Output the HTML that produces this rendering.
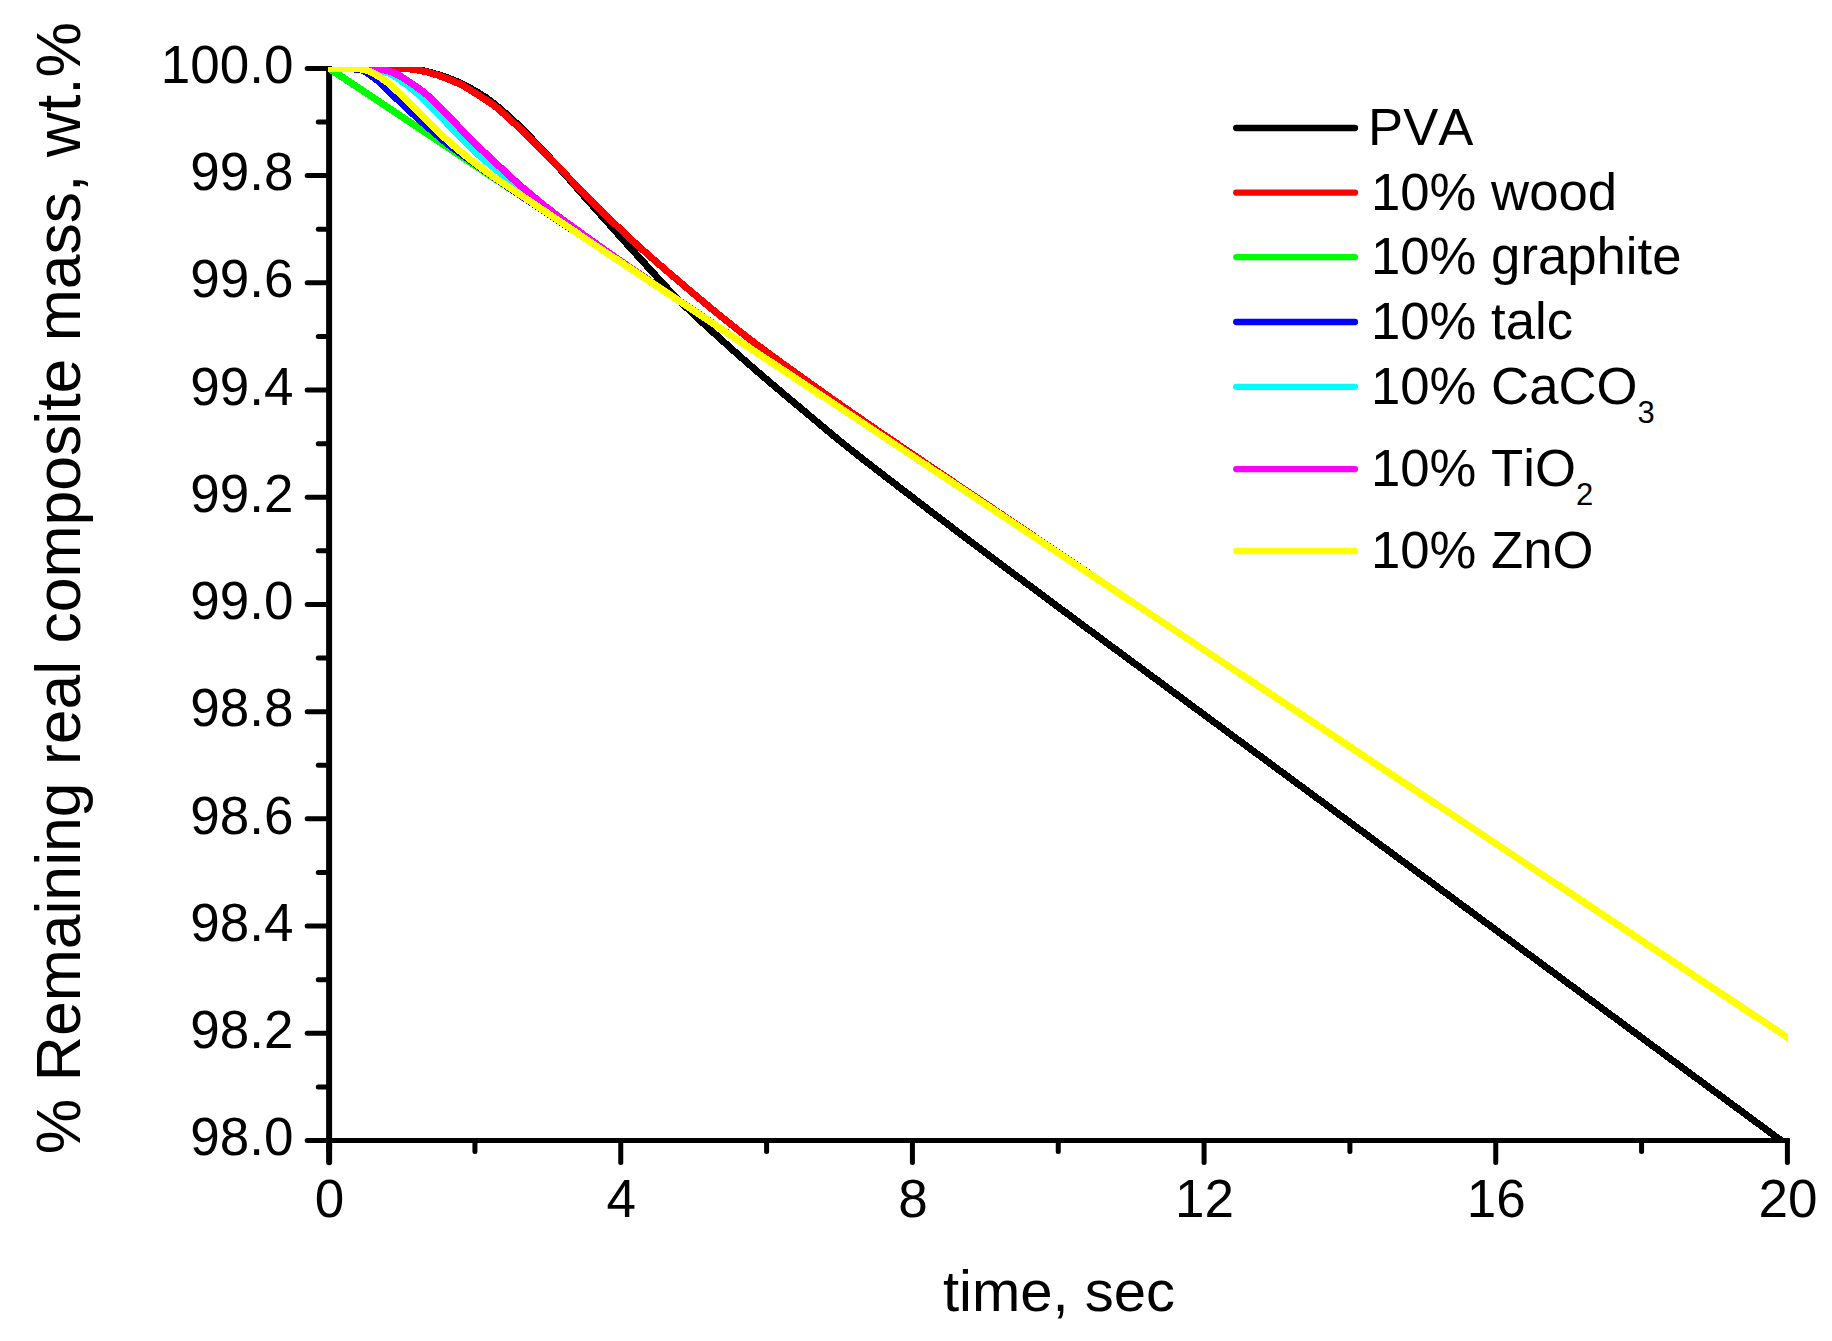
<!DOCTYPE html>
<html lang="en"><head><meta charset="utf-8"><title>Remaining real composite mass vs time</title>
<style>html,body{margin:0;padding:0;background:#fff}svg{display:block}text{font-family:"Liberation Sans",sans-serif;fill:#000;font-kerning:none}</style></head><body>
<svg width="1832" height="1341" viewBox="0 0 1832 1341">
<rect width="1832" height="1341" fill="#fff"/>
<defs><clipPath id="plot"><rect x="328" y="67" width="1460" height="1074.2"/></clipPath></defs>
<g stroke="#000" fill="none" stroke-linecap="butt">
<line x1="329.10" y1="65.90" x2="329.10" y2="1150.00" stroke-width="6.0"/>
<line x1="329.10" y1="1140" x2="329.10" y2="1162.2" stroke-width="6.0" stroke-linecap="round"/>
<line x1="307.20" y1="1140.50" x2="1789.90" y2="1140.50" stroke-width="5.0"/>
<line x1="307.2" y1="1140.50" x2="320" y2="1140.50" stroke-width="5.0" stroke-linecap="round"/>
<line x1="307.2" y1="68.40" x2="329.10" y2="68.40" stroke-width="5" stroke-linecap="round"/>
<line x1="318.3" y1="122.00" x2="329.10" y2="122.00" stroke-width="5" stroke-linecap="round"/>
<line x1="307.2" y1="175.61" x2="329.10" y2="175.61" stroke-width="5" stroke-linecap="round"/>
<line x1="318.3" y1="229.22" x2="329.10" y2="229.22" stroke-width="5" stroke-linecap="round"/>
<line x1="307.2" y1="282.82" x2="329.10" y2="282.82" stroke-width="5" stroke-linecap="round"/>
<line x1="318.3" y1="336.43" x2="329.10" y2="336.43" stroke-width="5" stroke-linecap="round"/>
<line x1="307.2" y1="390.03" x2="329.10" y2="390.03" stroke-width="5" stroke-linecap="round"/>
<line x1="318.3" y1="443.63" x2="329.10" y2="443.63" stroke-width="5" stroke-linecap="round"/>
<line x1="307.2" y1="497.24" x2="329.10" y2="497.24" stroke-width="5" stroke-linecap="round"/>
<line x1="318.3" y1="550.85" x2="329.10" y2="550.85" stroke-width="5" stroke-linecap="round"/>
<line x1="307.2" y1="604.45" x2="329.10" y2="604.45" stroke-width="5" stroke-linecap="round"/>
<line x1="318.3" y1="658.05" x2="329.10" y2="658.05" stroke-width="5" stroke-linecap="round"/>
<line x1="307.2" y1="711.66" x2="329.10" y2="711.66" stroke-width="5" stroke-linecap="round"/>
<line x1="318.3" y1="765.26" x2="329.10" y2="765.26" stroke-width="5" stroke-linecap="round"/>
<line x1="307.2" y1="818.87" x2="329.10" y2="818.87" stroke-width="5" stroke-linecap="round"/>
<line x1="318.3" y1="872.47" x2="329.10" y2="872.47" stroke-width="5" stroke-linecap="round"/>
<line x1="307.2" y1="926.08" x2="329.10" y2="926.08" stroke-width="5" stroke-linecap="round"/>
<line x1="318.3" y1="979.68" x2="329.10" y2="979.68" stroke-width="5" stroke-linecap="round"/>
<line x1="307.2" y1="1033.29" x2="329.10" y2="1033.29" stroke-width="5" stroke-linecap="round"/>
<line x1="318.3" y1="1086.89" x2="329.10" y2="1086.89" stroke-width="5" stroke-linecap="round"/>
<line x1="474.93" y1="1140.50" x2="474.93" y2="1151.6" stroke-width="5" stroke-linecap="round"/>
<line x1="620.76" y1="1140.50" x2="620.76" y2="1162.5" stroke-width="5.0" stroke-linecap="round"/>
<line x1="766.59" y1="1140.50" x2="766.59" y2="1151.6" stroke-width="5" stroke-linecap="round"/>
<line x1="912.42" y1="1140.50" x2="912.42" y2="1162.5" stroke-width="5.0" stroke-linecap="round"/>
<line x1="1058.25" y1="1140.50" x2="1058.25" y2="1151.6" stroke-width="5" stroke-linecap="round"/>
<line x1="1204.08" y1="1140.50" x2="1204.08" y2="1162.5" stroke-width="5.0" stroke-linecap="round"/>
<line x1="1349.91" y1="1140.50" x2="1349.91" y2="1151.6" stroke-width="5" stroke-linecap="round"/>
<line x1="1495.74" y1="1140.50" x2="1495.74" y2="1162.5" stroke-width="5.0" stroke-linecap="round"/>
<line x1="1641.57" y1="1140.50" x2="1641.57" y2="1151.6" stroke-width="5" stroke-linecap="round"/>
<line x1="1787.40" y1="1140.50" x2="1787.40" y2="1162.5" stroke-width="5.0" stroke-linecap="round"/>
</g>
<g clip-path="url(#plot)" fill="none" stroke-width="7.0" stroke-linejoin="round" stroke-linecap="butt" shape-rendering="crispEdges">
<path stroke="#000" d="M321.1 68.4L323.6 68.4L326.1 68.4L328.6 68.4L331.1 68.4L333.6 68.4L336.1 68.4L338.6 68.4L341.1 68.4L343.6 68.4L346.1 68.4L348.6 68.4L351.1 68.4L353.6 68.4L356.1 68.4L358.6 68.4L361.1 68.4L363.6 68.4L366.1 68.4L368.6 68.4L371.1 68.4L373.6 68.4L376.1 68.3L378.6 68.3L381.1 68.3L383.6 68.3L386.1 68.3L388.6 68.3L391.1 68.3L393.6 68.3L396.1 68.3L398.6 68.4L401.1 68.4L403.6 68.5L406.1 68.6L408.6 68.7L411.1 68.9L413.6 69.2L416.1 69.6L418.6 70.0L421.1 70.4L423.6 70.9L426.1 71.4L428.6 71.9L431.1 72.6L433.6 73.3L436.1 74.1L438.6 74.8L441.1 75.7L443.6 76.5L446.1 77.3L448.6 78.3L451.1 79.2L453.6 80.2L456.1 81.2L458.6 82.3L461.1 83.4L463.6 84.7L466.1 86.0L468.6 87.4L471.1 88.7L473.6 90.1L476.1 91.5L478.6 93.0L481.1 94.5L483.6 96.1L486.1 97.7L488.6 99.5L491.1 101.3L493.6 103.3L496.1 105.3L498.6 107.4L501.1 109.5L503.6 111.7L506.1 113.9L508.6 116.2L511.1 118.5L513.6 120.7L516.1 123.0L518.6 125.4L521.1 127.8L523.6 130.3L526.1 132.8L528.6 135.4L531.1 138.0L533.6 140.6L536.1 143.2L538.6 145.8L541.1 148.4L543.6 151.1L546.1 153.7L548.6 156.4L551.1 159.1L553.6 161.9L556.1 164.6L558.6 167.4L561.1 170.2L563.6 173.0L566.1 175.8L568.6 178.6L571.1 181.4L573.6 184.3L576.1 187.1L578.6 189.9L581.1 192.7L583.6 195.6L586.1 198.4L588.6 201.2L591.1 204.0L593.6 206.8L596.1 209.6L598.6 212.4L601.1 215.2L603.6 218.0L606.1 220.8L608.6 223.6L611.1 226.4L613.6 229.2L616.1 232.0L618.6 234.8L621.1 237.6L623.6 240.3L626.1 243.1L628.6 245.9L631.1 248.6L633.6 251.4L636.1 254.1L638.6 256.9L641.1 259.6L643.6 262.3L646.1 265.1L648.6 267.8L651.1 270.6L653.6 273.4L656.1 276.1L658.6 278.9L661.1 281.6L663.6 284.3L666.1 287.0L668.6 289.6L671.1 292.3L673.6 294.9L676.1 297.4L678.6 299.9L681.1 302.4L683.6 304.8L686.1 307.2L688.6 309.6L691.1 312.0L693.6 314.3L696.1 316.7L698.6 319.0L701.1 321.3L703.6 323.6L706.1 325.9L708.6 328.2L711.1 330.4L713.6 332.7L716.1 335.0L718.6 337.2L721.1 339.5L723.6 341.7L726.1 344.0L728.6 346.2L731.1 348.5L733.6 350.7L736.1 352.9L738.6 355.1L741.1 357.3L743.6 359.5L746.1 361.7L748.6 363.9L751.1 366.1L753.6 368.3L756.1 370.4L758.6 372.6L761.1 374.7L763.6 376.9L766.1 379.0L768.6 381.2L771.1 383.3L773.6 385.4L776.1 387.5L778.6 389.6L781.1 391.8L783.6 393.9L786.1 396.0L788.6 398.1L791.1 400.2L793.6 402.2L796.1 404.3L798.6 406.4L801.1 408.5L803.6 410.6L806.1 412.7L808.6 414.8L811.1 416.9L813.6 419.0L816.1 421.1L818.6 423.2L821.1 425.3L823.6 427.4L826.1 429.5L828.6 431.6L831.1 433.7L833.6 435.7L836.1 437.8L838.6 439.8L841.1 441.9L843.6 443.9L846.1 445.9L848.6 447.9L851.1 449.9L853.6 451.8L856.1 453.8L858.6 455.8L861.1 457.7L863.6 459.7L866.1 461.6L868.6 463.6L871.1 465.5L873.6 467.5L876.1 469.4L878.6 471.3L881.1 473.3L883.6 475.2L886.1 477.1L888.6 479.0L891.1 481.0L893.6 482.9L896.1 484.8L898.6 486.7L901.1 488.6L903.6 490.6L906.1 492.5L908.6 494.4L911.1 496.3L913.6 498.2L916.1 500.2L918.6 502.1L921.1 504.0L923.6 505.9L926.1 507.8L928.6 509.7L931.1 511.6L933.6 513.5L936.1 515.5L938.6 517.4L941.1 519.3L943.6 521.2L946.1 523.0L948.6 524.9L951.1 526.8L953.6 528.7L956.1 530.6L958.6 532.5L961.1 534.4L963.6 536.3L966.1 538.2L968.6 540.0L971.1 541.9L973.6 543.8L976.1 545.7L978.6 547.6L981.1 549.4L983.6 551.3L986.1 553.2L988.6 555.1L991.1 556.9L993.6 558.8L996.1 560.7L998.6 562.6L1001.1 564.4L1003.6 566.3L1006.1 568.2L1008.6 570.0L1011.1 571.9L1013.6 573.7L1016.1 575.6L1018.6 577.5L1021.1 579.3L1023.6 581.2L1026.1 583.1L1028.6 584.9L1031.1 586.8L1033.6 588.7L1036.1 590.5L1038.6 592.4L1041.1 594.2L1043.6 596.1L1046.1 598.0L1048.6 599.8L1051.1 601.7L1053.6 603.5L1056.1 605.4L1058.6 607.3L1061.1 609.1L1063.6 611.0L1066.1 612.8L1068.6 614.7L1071.1 616.5L1073.6 618.4L1076.1 620.2L1078.6 622.1L1081.1 623.9L1083.6 625.8L1086.1 627.6L1088.6 629.5L1091.1 631.3L1093.6 633.2L1096.1 635.0L1098.6 636.9L1101.1 638.7L1103.6 640.6L1106.1 642.4L1108.6 644.3L1111.1 646.1L1113.6 648.0L1116.1 649.8L1118.6 651.6L1121.1 653.5L1123.6 655.3L1126.1 657.2L1128.6 659.0L1131.1 660.9L1133.6 662.7L1136.1 664.6L1138.6 666.4L1141.1 668.3L1143.6 670.1L1146.1 671.9L1148.6 673.8L1150.0 674.8L1795.4 1151.1"/>
<path stroke="#f00" d="M321.1 68.4L323.6 68.4L326.1 68.4L328.6 68.4L331.1 68.4L333.6 68.4L336.1 68.4L338.6 68.4L341.1 68.4L343.6 68.4L346.1 68.4L348.6 68.4L351.1 68.4L353.6 68.4L356.1 68.4L358.6 68.4L361.1 68.4L363.6 68.4L366.1 68.4L368.6 68.4L371.1 68.4L373.6 68.3L376.1 68.3L378.6 68.3L381.1 68.2L383.6 68.2L386.1 68.2L388.6 68.2L391.1 68.2L393.6 68.2L396.1 68.3L398.6 68.4L401.1 68.4L403.6 68.5L406.1 68.7L408.6 68.9L411.1 69.1L413.6 69.4L416.1 69.8L418.6 70.2L421.1 70.7L423.6 71.2L426.1 71.8L428.6 72.4L431.1 73.1L433.6 73.9L436.1 74.7L438.6 75.5L441.1 76.4L443.6 77.3L446.1 78.2L448.6 79.2L451.1 80.3L453.6 81.3L456.1 82.4L458.6 83.4L461.1 84.6L463.6 86.0L466.1 87.5L468.6 89.0L471.1 90.6L473.6 92.1L476.1 93.7L478.6 95.3L481.1 96.9L483.6 98.5L486.1 100.1L488.6 101.8L491.1 103.4L493.6 105.3L496.1 107.2L498.6 109.2L501.1 111.4L503.6 113.6L506.1 115.9L508.6 118.1L511.1 120.4L513.6 122.7L516.1 125.0L518.6 127.3L521.1 129.7L523.6 132.2L526.1 134.6L528.6 137.2L531.1 139.7L533.6 142.2L536.1 144.8L538.6 147.3L541.1 149.8L543.6 152.3L546.1 154.8L548.6 157.3L551.1 159.8L553.6 162.4L556.1 164.9L558.6 167.4L561.1 170.0L563.6 172.5L566.1 175.0L568.6 177.6L571.1 180.1L573.6 182.7L576.1 185.3L578.6 187.8L581.1 190.4L583.6 193.0L586.1 195.5L588.6 198.1L591.1 200.6L593.6 203.1L596.1 205.6L598.6 208.1L601.1 210.6L603.6 213.0L606.1 215.5L608.6 217.9L611.1 220.3L613.6 222.7L616.1 225.1L618.6 227.5L621.1 229.9L623.6 232.2L626.1 234.6L628.6 236.9L631.1 239.3L633.6 241.6L636.1 243.9L638.6 246.1L641.1 248.4L643.6 250.6L646.1 252.9L648.6 255.1L651.1 257.3L653.6 259.5L656.1 261.7L658.6 263.8L661.1 266.0L663.6 268.2L666.1 270.3L668.6 272.5L671.1 274.6L673.6 276.7L676.1 278.9L678.6 281.0L681.1 283.1L683.6 285.3L686.1 287.4L688.6 289.5L691.1 291.6L693.6 293.7L696.1 295.8L698.6 298.0L701.1 300.0L703.6 302.1L706.1 304.2L708.6 306.3L711.1 308.4L713.6 310.4L716.1 312.4L718.6 314.5L721.1 316.5L723.6 318.5L726.1 320.5L728.6 322.5L731.1 324.5L733.6 326.5L736.1 328.5L738.6 330.5L741.1 332.5L743.6 334.4L746.1 336.4L748.6 338.3L751.1 340.3L753.6 342.2L756.1 344.1L758.6 346.0L761.1 347.8L763.6 349.7L766.1 351.5L768.6 353.4L771.1 355.2L773.6 357.0L776.1 358.8L778.6 360.6L781.1 362.4L783.6 364.2L786.1 366.0L788.6 367.8L791.1 369.6L793.6 371.4L796.1 373.2L798.6 375.0L801.1 376.8L803.6 378.6L806.1 380.4L808.6 382.1L811.1 383.9L813.6 385.7L816.1 387.5L818.6 389.3L821.1 391.1L823.6 392.8L826.1 394.6L828.6 396.4L831.1 398.1L833.6 399.9L836.1 401.7L838.6 403.4L841.1 405.2L843.6 406.9L846.1 408.7L848.6 410.4L851.1 412.2L853.6 413.9L856.1 415.6L858.6 417.4L861.1 419.1L863.6 420.8L866.1 422.6L868.6 424.3L871.1 426.0L873.6 427.7L876.1 429.4L878.6 431.2L881.1 432.9L883.6 434.6L886.1 436.3L888.6 438.0L891.1 439.7L893.6 441.4L896.1 443.1L898.6 444.8L901.1 446.5L903.6 448.2L906.1 449.9L908.6 451.6L911.1 453.3L913.6 455.0L916.1 456.7L918.6 458.4L921.1 460.1L923.6 461.8L926.1 463.5L928.6 465.2L931.1 466.9L933.6 468.6L936.1 470.3L938.6 472.0L941.1 473.7L943.6 475.4L946.1 477.0L948.6 478.7L951.1 480.4L953.6 482.1L956.1 483.8L958.6 485.5L961.1 487.2L963.6 488.9L966.1 490.5L968.6 492.2L971.1 493.9L973.6 495.6L976.1 497.3L978.6 499.0L981.1 500.7L983.6 502.3L986.1 504.0L988.6 505.7L991.1 507.4L993.6 509.1L996.1 510.8L998.6 512.5L1001.1 514.1L1003.6 515.8L1006.1 517.5L1008.6 519.2L1011.1 520.9L1013.6 522.6L1016.1 524.3L1018.6 526.0L1021.1 527.6L1023.6 529.3L1026.1 531.0L1028.6 532.7L1031.1 534.4L1033.6 536.1L1036.1 537.8L1038.6 539.5L1041.1 541.2L1043.6 542.8L1046.1 544.5L1048.6 546.2L1051.1 547.9L1053.6 549.6L1056.1 551.3L1058.6 553.0L1061.1 554.7L1063.6 556.3L1066.1 558.0L1068.6 559.7L1071.1 561.4L1073.6 563.1L1076.1 564.7L1078.6 566.4L1081.1 568.1L1083.6 569.8L1086.1 571.4L1088.6 573.1L1091.1 574.8L1093.6 576.4L1096.1 578.1L1098.6 579.8L1101.1 581.4L1103.6 583.1L1106.1 584.7L1108.6 586.4L1111.1 588.1L1113.6 589.7L1116.1 591.4L1118.6 593.1L1121.1 594.7L1123.6 596.4L1126.1 598.0L1128.6 599.7L1131.1 601.4L1133.6 603.0L1136.1 604.7L1138.6 606.3L1141.1 608.0L1143.6 609.7L1146.1 611.3L1148.6 613.0L1150.0 613.9L1795.4 1042.8"/>
<path stroke="#0f0" d="M321.1 63.1L323.6 64.7L326.1 66.4L328.6 68.1L331.1 69.7L333.6 71.4L336.1 73.1L338.6 74.7L341.1 76.4L343.6 78.0L346.1 79.7L348.6 81.4L351.1 83.0L353.6 84.7L356.1 86.3L358.6 88.0L361.1 89.7L363.6 91.3L366.1 93.0L368.6 94.6L371.1 96.3L373.6 98.0L376.1 99.6L378.6 101.3L381.1 103.0L383.6 104.6L386.1 106.3L388.6 107.9L391.1 109.6L393.6 111.3L396.1 112.9L398.6 114.6L401.1 116.2L403.6 117.9L406.1 119.6L408.6 121.2L411.1 122.9L413.6 124.6L416.1 126.2L418.6 127.9L421.1 129.5L423.6 131.2L426.1 132.9L428.6 134.5L431.1 136.2L433.6 137.8L436.1 139.5L438.6 141.2L441.1 142.8L443.6 144.5L446.1 146.2L448.6 147.8L451.1 149.5L453.6 151.1L456.1 152.8L458.6 154.5L461.1 156.1L463.6 157.8L466.1 159.4L468.6 161.1L471.1 162.8L473.6 164.4L476.1 166.1L478.6 167.7L481.1 169.4L483.6 171.1L486.1 172.7L488.6 174.4L491.1 176.1L493.6 177.7L496.1 179.4L498.6 181.0L501.1 182.7L503.6 184.4L506.1 186.0L508.6 187.7L511.1 189.3L513.6 191.0L516.1 192.7L518.6 194.3L521.1 196.0L523.6 197.7L526.1 199.3L528.6 201.0L531.1 202.6L533.6 204.3L536.1 206.0L538.6 207.6L541.1 209.3L543.6 210.9L546.1 212.6L548.6 214.3L551.1 215.9L553.6 217.6L556.1 219.3L558.6 220.9L561.1 222.6L563.6 224.2L566.1 225.9L568.6 227.6L571.1 229.2L573.6 230.9L576.1 232.5L578.6 234.2L581.1 235.9L583.6 237.5L586.1 239.2L588.6 240.8L591.1 242.5L593.6 244.2L596.1 245.8L598.6 247.5L601.1 249.2L603.6 250.8L606.1 252.5L608.6 254.1L611.1 255.8L613.6 257.5L616.1 259.1L618.6 260.8L621.1 262.4L623.6 264.1L626.1 265.8L628.6 267.4L631.1 269.1L633.6 270.8L636.1 272.4L638.6 274.1L641.1 275.7L643.6 277.4L646.1 279.1L648.6 280.7L651.1 282.4L653.6 284.0L656.1 285.7L658.6 287.4L661.1 289.0L663.6 290.7L666.1 292.4L668.6 294.0L671.1 295.7L673.6 297.3L676.1 299.0L678.6 300.7L681.1 302.3L683.6 304.0L686.1 305.6L688.6 307.3L691.1 309.0L693.6 310.6L696.1 312.3L698.6 313.9L701.1 315.6L703.6 317.3L706.1 318.9L708.6 320.6L711.1 322.3L713.6 323.9L716.1 325.6L718.6 327.2L721.1 328.9L723.6 330.6L726.1 332.2L728.6 333.9L731.1 335.5L733.6 337.2L736.1 338.9L738.6 340.5L741.1 342.2L743.6 343.9L746.1 345.5L748.6 347.2L751.1 348.8L753.6 350.5L756.1 352.2L758.6 353.8L761.1 355.5L763.6 357.1L766.1 358.8L768.6 360.5L771.1 362.1L773.6 363.8L776.1 365.4L778.6 367.1L781.1 368.8L783.6 370.4L786.1 372.1L788.6 373.8L791.1 375.4L793.6 377.1L796.1 378.7L798.6 380.4L801.1 382.1L803.6 383.7L806.1 385.4L808.6 387.0L811.1 388.7L813.6 390.4L816.1 392.0L818.6 393.7L821.1 395.4L823.6 397.0L826.1 398.7L828.6 400.3L831.1 402.0L833.6 403.7L836.1 405.3L838.6 407.0L841.1 408.6L843.6 410.3L846.1 412.0L848.6 413.6L851.1 415.3L853.6 417.0L856.1 418.6L858.6 420.3L861.1 421.9L863.6 423.6L866.1 425.3L868.6 426.9L871.1 428.6L873.6 430.2L876.1 431.9L878.6 433.6L881.1 435.2L883.6 436.9L886.1 438.5L888.6 440.2L891.1 441.9L893.6 443.5L896.1 445.2L898.6 446.9L901.1 448.5L903.6 450.2L906.1 451.8L908.6 453.5L911.1 455.2L913.6 456.8L916.1 458.5L918.6 460.1L921.1 461.8L923.6 463.5L926.1 465.1L928.6 466.8L931.1 468.5L933.6 470.1L936.1 471.8L938.6 473.4L941.1 475.1L943.6 476.8L946.1 478.4L948.6 480.1L951.1 481.7L953.6 483.4L956.1 485.1L958.6 486.7L961.1 488.4L963.6 490.1L966.1 491.7L968.6 493.4L971.1 495.0L973.6 496.7L976.1 498.4L978.6 500.0L981.1 501.7L983.6 503.3L986.1 505.0L988.6 506.7L991.1 508.3L993.6 510.0L996.1 511.6L998.6 513.3L1001.1 515.0L1003.6 516.6L1006.1 518.3L1008.6 520.0L1011.1 521.6L1013.6 523.3L1016.1 524.9L1018.6 526.6L1021.1 528.3L1023.6 529.9L1026.1 531.6L1028.6 533.2L1031.1 534.9L1033.6 536.6L1036.1 538.2L1038.6 539.9L1041.1 541.6L1043.6 543.2L1046.1 544.9L1048.6 546.5L1051.1 548.2L1053.6 549.9L1056.1 551.5L1058.6 553.2L1061.1 554.8L1063.6 556.5L1066.1 558.2L1068.6 559.8L1071.1 561.5L1073.6 563.2L1076.1 564.8L1078.6 566.5L1081.1 568.1L1083.6 569.8L1086.1 571.5L1088.6 573.1L1091.1 574.8L1093.6 576.4L1096.1 578.1L1098.6 579.8L1101.1 581.4L1103.6 583.1L1106.1 584.7L1108.6 586.4L1111.1 588.1L1113.6 589.7L1116.1 591.4L1118.6 593.1L1121.1 594.7L1123.6 596.4L1126.1 598.0L1128.6 599.7L1131.1 601.4L1133.6 603.0L1136.1 604.7L1138.6 606.3L1141.1 608.0L1143.6 609.7L1146.1 611.3L1148.6 613.0L1150.0 613.9L1795.4 1042.8"/>
<path stroke="#00f" d="M321.1 68.4L323.6 68.4L326.1 68.4L328.6 68.4L331.1 68.4L333.6 68.4L336.1 68.4L338.6 68.4L341.1 68.4L343.6 68.4L346.1 68.4L348.6 68.5L351.1 68.7L353.6 68.9L356.1 69.2L358.6 69.5L361.1 69.8L363.6 70.6L366.1 72.1L368.6 73.9L371.1 75.6L373.6 77.5L376.1 79.3L378.6 81.5L381.1 83.8L383.6 86.2L386.1 88.5L388.6 90.9L391.1 93.3L393.6 95.7L396.1 98.2L398.6 100.6L401.1 102.9L403.6 105.3L406.1 107.7L408.6 110.0L411.1 112.3L413.6 114.6L416.1 116.9L418.6 119.1L421.1 121.4L423.6 123.6L426.1 125.7L428.6 127.9L431.1 130.0L433.6 132.2L436.1 134.4L438.6 136.5L441.1 138.6L443.6 140.7L446.1 142.8L448.6 144.7L451.1 146.6L453.6 148.5L456.1 150.3L458.6 152.2L461.1 154.0L463.6 155.8L466.1 157.6L468.6 159.3L471.1 161.1L473.6 162.9L476.1 164.7L478.6 166.5L481.1 168.2L483.6 170.0L486.1 171.8L488.6 173.6L491.1 175.3L493.6 177.1L496.1 178.8L498.6 180.5L501.1 182.3L503.6 184.0L506.1 185.7L508.6 187.4L511.1 189.1L513.6 190.8L516.1 192.5L518.6 194.2L521.1 195.9L523.6 197.6L526.1 199.3L528.6 201.0L531.1 202.6L533.6 204.3L536.1 206.0L538.6 207.6L541.1 209.3L543.6 210.9L546.1 212.6L548.6 214.3L551.1 215.9L553.6 217.6L556.1 219.3L558.6 220.9L561.1 222.6L563.6 224.2L566.1 225.9L568.6 227.6L571.1 229.2L573.6 230.9L576.1 232.5L578.6 234.2L581.1 235.9L583.6 237.5L586.1 239.2L588.6 240.8L591.1 242.5L593.6 244.2L596.1 245.8L598.6 247.5L601.1 249.2L603.6 250.8L606.1 252.5L608.6 254.1L611.1 255.8L613.6 257.5L616.1 259.1L618.6 260.8L621.1 262.4L623.6 264.1L626.1 265.8L628.6 267.4L631.1 269.1L633.6 270.8L636.1 272.4L638.6 274.1L641.1 275.7L643.6 277.4L646.1 279.1L648.6 280.7L651.1 282.4L653.6 284.0L656.1 285.7L658.6 287.4L661.1 289.0L663.6 290.7L666.1 292.4L668.6 294.0L671.1 295.7L673.6 297.3L676.1 299.0L678.6 300.7L681.1 302.3L683.6 304.0L686.1 305.6L688.6 307.3L691.1 309.0L693.6 310.6L696.1 312.3L698.6 313.9L701.1 315.6L703.6 317.3L706.1 318.9L708.6 320.6L711.1 322.3L713.6 323.9L716.1 325.6L718.6 327.2L721.1 328.9L723.6 330.6L726.1 332.2L728.6 333.9L731.1 335.5L733.6 337.2L736.1 338.9L738.6 340.5L741.1 342.2L743.6 343.9L746.1 345.5L748.6 347.2L751.1 348.8L753.6 350.5L756.1 352.2L758.6 353.8L761.1 355.5L763.6 357.1L766.1 358.8L768.6 360.5L771.1 362.1L773.6 363.8L776.1 365.4L778.6 367.1L781.1 368.8L783.6 370.4L786.1 372.1L788.6 373.8L791.1 375.4L793.6 377.1L796.1 378.7L798.6 380.4L801.1 382.1L803.6 383.7L806.1 385.4L808.6 387.0L811.1 388.7L813.6 390.4L816.1 392.0L818.6 393.7L821.1 395.4L823.6 397.0L826.1 398.7L828.6 400.3L831.1 402.0L833.6 403.7L836.1 405.3L838.6 407.0L841.1 408.6L843.6 410.3L846.1 412.0L848.6 413.6L851.1 415.3L853.6 417.0L856.1 418.6L858.6 420.3L861.1 421.9L863.6 423.6L866.1 425.3L868.6 426.9L871.1 428.6L873.6 430.2L876.1 431.9L878.6 433.6L881.1 435.2L883.6 436.9L886.1 438.5L888.6 440.2L891.1 441.9L893.6 443.5L896.1 445.2L898.6 446.9L901.1 448.5L903.6 450.2L906.1 451.8L908.6 453.5L911.1 455.2L913.6 456.8L916.1 458.5L918.6 460.1L921.1 461.8L923.6 463.5L926.1 465.1L928.6 466.8L931.1 468.5L933.6 470.1L936.1 471.8L938.6 473.4L941.1 475.1L943.6 476.8L946.1 478.4L948.6 480.1L951.1 481.7L953.6 483.4L956.1 485.1L958.6 486.7L961.1 488.4L963.6 490.1L966.1 491.7L968.6 493.4L971.1 495.0L973.6 496.7L976.1 498.4L978.6 500.0L981.1 501.7L983.6 503.3L986.1 505.0L988.6 506.7L991.1 508.3L993.6 510.0L996.1 511.6L998.6 513.3L1001.1 515.0L1003.6 516.6L1006.1 518.3L1008.6 520.0L1011.1 521.6L1013.6 523.3L1016.1 524.9L1018.6 526.6L1021.1 528.3L1023.6 529.9L1026.1 531.6L1028.6 533.2L1031.1 534.9L1033.6 536.6L1036.1 538.2L1038.6 539.9L1041.1 541.6L1043.6 543.2L1046.1 544.9L1048.6 546.5L1051.1 548.2L1053.6 549.9L1056.1 551.5L1058.6 553.2L1061.1 554.8L1063.6 556.5L1066.1 558.2L1068.6 559.8L1071.1 561.5L1073.6 563.2L1076.1 564.8L1078.6 566.5L1081.1 568.1L1083.6 569.8L1086.1 571.5L1088.6 573.1L1091.1 574.8L1093.6 576.4L1096.1 578.1L1098.6 579.8L1101.1 581.4L1103.6 583.1L1106.1 584.7L1108.6 586.4L1111.1 588.1L1113.6 589.7L1116.1 591.4L1118.6 593.1L1121.1 594.7L1123.6 596.4L1126.1 598.0L1128.6 599.7L1131.1 601.4L1133.6 603.0L1136.1 604.7L1138.6 606.3L1141.1 608.0L1143.6 609.7L1146.1 611.3L1148.6 613.0L1150.0 613.9L1795.4 1042.8"/>
<path stroke="#0ff" d="M321.1 68.4L323.6 68.4L326.1 68.4L328.6 68.4L331.1 68.4L333.6 68.4L336.1 68.4L338.6 68.4L341.1 68.4L343.6 68.4L346.1 68.4L348.6 68.4L351.1 68.4L353.6 68.4L356.1 68.3L358.6 68.3L361.1 68.3L363.6 68.4L366.1 68.4L368.6 68.4L371.1 68.4L373.6 68.6L376.1 69.0L378.6 69.6L381.1 70.3L383.6 71.2L386.1 72.1L388.6 73.1L391.1 74.2L393.6 75.5L396.1 77.1L398.6 78.9L401.1 80.7L403.6 82.5L406.1 84.3L408.6 86.2L411.1 88.1L413.6 90.2L416.1 92.3L418.6 94.5L421.1 96.7L423.6 99.0L426.1 101.4L428.6 103.8L431.1 106.2L433.6 108.7L436.1 111.3L438.6 113.9L441.1 116.6L443.6 119.4L446.1 122.1L448.6 124.7L451.1 127.3L453.6 129.9L456.1 132.6L458.6 135.2L461.1 137.8L463.6 140.4L466.1 142.9L468.6 145.4L471.1 147.9L473.6 150.2L476.1 152.5L478.6 154.7L481.1 157.0L483.6 159.2L486.1 161.3L488.6 163.4L491.1 165.6L493.6 167.6L496.1 169.7L498.6 171.7L501.1 173.7L503.6 175.6L506.1 177.6L508.6 179.5L511.1 181.4L513.6 183.2L516.1 185.1L518.6 187.0L521.1 188.9L523.6 190.7L526.1 192.6L528.6 194.5L531.1 196.4L533.6 198.4L536.1 200.3L538.6 202.3L541.1 204.2L543.6 206.2L546.1 208.1L548.6 210.1L551.1 212.0L553.6 213.9L556.1 215.8L558.6 217.7L561.1 219.6L563.6 221.5L566.1 223.4L568.6 225.3L571.1 227.1L573.6 229.0L576.1 230.8L578.6 232.6L581.1 234.4L583.6 236.2L586.1 238.0L588.6 239.7L591.1 241.5L593.6 243.2L596.1 244.9L598.6 246.7L601.1 248.4L603.6 250.1L606.1 251.8L608.6 253.5L611.1 255.2L613.6 256.9L616.1 258.6L618.6 260.3L621.1 262.0L623.6 263.7L626.1 265.4L628.6 267.1L631.1 268.7L633.6 270.4L636.1 272.1L638.6 273.8L641.1 275.5L643.6 277.2L646.1 278.8L648.6 280.5L651.1 282.2L653.6 283.9L656.1 285.5L658.6 287.2L661.1 288.9L663.6 290.6L666.1 292.2L668.6 293.9L671.1 295.6L673.6 297.3L676.1 298.9L678.6 300.6L681.1 302.3L683.6 304.0L686.1 305.6L688.6 307.3L691.1 309.0L693.6 310.6L696.1 312.3L698.6 313.9L701.1 315.6L703.6 317.3L706.1 318.9L708.6 320.6L711.1 322.3L713.6 323.9L716.1 325.6L718.6 327.2L721.1 328.9L723.6 330.6L726.1 332.2L728.6 333.9L731.1 335.5L733.6 337.2L736.1 338.9L738.6 340.5L741.1 342.2L743.6 343.9L746.1 345.5L748.6 347.2L751.1 348.8L753.6 350.5L756.1 352.2L758.6 353.8L761.1 355.5L763.6 357.1L766.1 358.8L768.6 360.5L771.1 362.1L773.6 363.8L776.1 365.4L778.6 367.1L781.1 368.8L783.6 370.4L786.1 372.1L788.6 373.8L791.1 375.4L793.6 377.1L796.1 378.7L798.6 380.4L801.1 382.1L803.6 383.7L806.1 385.4L808.6 387.0L811.1 388.7L813.6 390.4L816.1 392.0L818.6 393.7L821.1 395.4L823.6 397.0L826.1 398.7L828.6 400.3L831.1 402.0L833.6 403.7L836.1 405.3L838.6 407.0L841.1 408.6L843.6 410.3L846.1 412.0L848.6 413.6L851.1 415.3L853.6 417.0L856.1 418.6L858.6 420.3L861.1 421.9L863.6 423.6L866.1 425.3L868.6 426.9L871.1 428.6L873.6 430.2L876.1 431.9L878.6 433.6L881.1 435.2L883.6 436.9L886.1 438.5L888.6 440.2L891.1 441.9L893.6 443.5L896.1 445.2L898.6 446.9L901.1 448.5L903.6 450.2L906.1 451.8L908.6 453.5L911.1 455.2L913.6 456.8L916.1 458.5L918.6 460.1L921.1 461.8L923.6 463.5L926.1 465.1L928.6 466.8L931.1 468.5L933.6 470.1L936.1 471.8L938.6 473.4L941.1 475.1L943.6 476.8L946.1 478.4L948.6 480.1L951.1 481.7L953.6 483.4L956.1 485.1L958.6 486.7L961.1 488.4L963.6 490.1L966.1 491.7L968.6 493.4L971.1 495.0L973.6 496.7L976.1 498.4L978.6 500.0L981.1 501.7L983.6 503.3L986.1 505.0L988.6 506.7L991.1 508.3L993.6 510.0L996.1 511.6L998.6 513.3L1001.1 515.0L1003.6 516.6L1006.1 518.3L1008.6 520.0L1011.1 521.6L1013.6 523.3L1016.1 524.9L1018.6 526.6L1021.1 528.3L1023.6 529.9L1026.1 531.6L1028.6 533.2L1031.1 534.9L1033.6 536.6L1036.1 538.2L1038.6 539.9L1041.1 541.6L1043.6 543.2L1046.1 544.9L1048.6 546.5L1051.1 548.2L1053.6 549.9L1056.1 551.5L1058.6 553.2L1061.1 554.8L1063.6 556.5L1066.1 558.2L1068.6 559.8L1071.1 561.5L1073.6 563.2L1076.1 564.8L1078.6 566.5L1081.1 568.1L1083.6 569.8L1086.1 571.5L1088.6 573.1L1091.1 574.8L1093.6 576.4L1096.1 578.1L1098.6 579.8L1101.1 581.4L1103.6 583.1L1106.1 584.7L1108.6 586.4L1111.1 588.1L1113.6 589.7L1116.1 591.4L1118.6 593.1L1121.1 594.7L1123.6 596.4L1126.1 598.0L1128.6 599.7L1131.1 601.4L1133.6 603.0L1136.1 604.7L1138.6 606.3L1141.1 608.0L1143.6 609.7L1146.1 611.3L1148.6 613.0L1150.0 613.9L1795.4 1042.8"/>
<path stroke="#f0f" d="M321.1 68.4L323.6 68.4L326.1 68.4L328.6 68.4L331.1 68.4L333.6 68.4L336.1 68.4L338.6 68.4L341.1 68.4L343.6 68.4L346.1 68.4L348.6 68.4L351.1 68.4L353.6 68.4L356.1 68.4L358.6 68.3L361.1 68.3L363.6 68.3L366.1 68.3L368.6 68.4L371.1 68.4L373.6 68.5L376.1 68.6L378.6 68.8L381.1 69.2L383.6 69.7L386.1 70.3L388.6 71.0L391.1 71.9L393.6 72.9L396.1 73.9L398.6 75.2L401.1 76.7L403.6 78.3L406.1 79.9L408.6 81.6L411.1 83.2L413.6 84.9L416.1 86.7L418.6 88.4L421.1 90.2L423.6 92.1L426.1 94.2L428.6 96.4L431.1 98.6L433.6 100.9L436.1 103.3L438.6 105.8L441.1 108.4L443.6 111.0L446.1 113.6L448.6 116.2L451.1 118.7L453.6 121.3L456.1 123.9L458.6 126.6L461.1 129.2L463.6 131.9L466.1 134.4L468.6 137.0L471.1 139.5L473.6 142.0L476.1 144.4L478.6 146.8L481.1 149.2L483.6 151.6L486.1 154.0L488.6 156.3L491.1 158.7L493.6 161.0L496.1 163.3L498.6 165.7L501.1 168.0L503.6 170.4L506.1 172.7L508.6 175.1L511.1 177.4L513.6 179.6L516.1 181.9L518.6 184.1L521.1 186.2L523.6 188.4L526.1 190.5L528.6 192.6L531.1 194.7L533.6 196.8L536.1 198.8L538.6 200.9L541.1 202.9L543.6 204.9L546.1 206.9L548.6 208.9L551.1 210.8L553.6 212.7L556.1 214.7L558.6 216.6L561.1 218.4L563.6 220.3L566.1 222.1L568.6 223.9L571.1 225.7L573.6 227.5L576.1 229.3L578.6 231.1L581.1 232.9L583.6 234.7L586.1 236.6L588.6 238.4L591.1 240.2L593.6 242.0L596.1 243.8L598.6 245.6L601.1 247.4L603.6 249.1L606.1 250.9L608.6 252.6L611.1 254.4L613.6 256.1L616.1 257.8L618.6 259.6L621.1 261.3L623.6 263.0L626.1 264.7L628.6 266.5L631.1 268.2L633.6 269.9L636.1 271.6L638.6 273.3L641.1 275.0L643.6 276.7L646.1 278.4L648.6 280.1L651.1 281.8L653.6 283.5L656.1 285.2L658.6 286.9L661.1 288.5L663.6 290.2L666.1 291.9L668.6 293.6L671.1 295.3L673.6 297.0L676.1 298.6L678.6 300.3L681.1 302.0L683.6 303.7L686.1 305.4L688.6 307.0L691.1 308.7L693.6 310.4L696.1 312.1L698.6 313.7L701.1 315.4L703.6 317.1L706.1 318.8L708.6 320.4L711.1 322.1L713.6 323.8L716.1 325.5L718.6 327.1L721.1 328.8L723.6 330.5L726.1 332.1L728.6 333.8L731.1 335.5L733.6 337.2L736.1 338.8L738.6 340.5L741.1 342.2L743.6 343.8L746.1 345.5L748.6 347.2L751.1 348.8L753.6 350.5L756.1 352.2L758.6 353.8L761.1 355.5L763.6 357.1L766.1 358.8L768.6 360.5L771.1 362.1L773.6 363.8L776.1 365.4L778.6 367.1L781.1 368.8L783.6 370.4L786.1 372.1L788.6 373.8L791.1 375.4L793.6 377.1L796.1 378.7L798.6 380.4L801.1 382.1L803.6 383.7L806.1 385.4L808.6 387.0L811.1 388.7L813.6 390.4L816.1 392.0L818.6 393.7L821.1 395.4L823.6 397.0L826.1 398.7L828.6 400.3L831.1 402.0L833.6 403.7L836.1 405.3L838.6 407.0L841.1 408.6L843.6 410.3L846.1 412.0L848.6 413.6L851.1 415.3L853.6 417.0L856.1 418.6L858.6 420.3L861.1 421.9L863.6 423.6L866.1 425.3L868.6 426.9L871.1 428.6L873.6 430.2L876.1 431.9L878.6 433.6L881.1 435.2L883.6 436.9L886.1 438.5L888.6 440.2L891.1 441.9L893.6 443.5L896.1 445.2L898.6 446.9L901.1 448.5L903.6 450.2L906.1 451.8L908.6 453.5L911.1 455.2L913.6 456.8L916.1 458.5L918.6 460.1L921.1 461.8L923.6 463.5L926.1 465.1L928.6 466.8L931.1 468.5L933.6 470.1L936.1 471.8L938.6 473.4L941.1 475.1L943.6 476.8L946.1 478.4L948.6 480.1L951.1 481.7L953.6 483.4L956.1 485.1L958.6 486.7L961.1 488.4L963.6 490.1L966.1 491.7L968.6 493.4L971.1 495.0L973.6 496.7L976.1 498.4L978.6 500.0L981.1 501.7L983.6 503.3L986.1 505.0L988.6 506.7L991.1 508.3L993.6 510.0L996.1 511.6L998.6 513.3L1001.1 515.0L1003.6 516.6L1006.1 518.3L1008.6 520.0L1011.1 521.6L1013.6 523.3L1016.1 524.9L1018.6 526.6L1021.1 528.3L1023.6 529.9L1026.1 531.6L1028.6 533.2L1031.1 534.9L1033.6 536.6L1036.1 538.2L1038.6 539.9L1041.1 541.6L1043.6 543.2L1046.1 544.9L1048.6 546.5L1051.1 548.2L1053.6 549.9L1056.1 551.5L1058.6 553.2L1061.1 554.8L1063.6 556.5L1066.1 558.2L1068.6 559.8L1071.1 561.5L1073.6 563.2L1076.1 564.8L1078.6 566.5L1081.1 568.1L1083.6 569.8L1086.1 571.5L1088.6 573.1L1091.1 574.8L1093.6 576.4L1096.1 578.1L1098.6 579.8L1101.1 581.4L1103.6 583.1L1106.1 584.7L1108.6 586.4L1111.1 588.1L1113.6 589.7L1116.1 591.4L1118.6 593.1L1121.1 594.7L1123.6 596.4L1126.1 598.0L1128.6 599.7L1131.1 601.4L1133.6 603.0L1136.1 604.7L1138.6 606.3L1141.1 608.0L1143.6 609.7L1146.1 611.3L1148.6 613.0L1150.0 613.9L1795.4 1042.8"/>
<path stroke="#ff0" d="M321.1 68.4L323.6 68.4L326.1 68.4L328.6 68.4L331.1 68.4L333.6 68.4L336.1 68.4L338.6 68.4L341.1 68.4L343.6 68.4L346.1 68.3L348.6 68.2L351.1 68.2L353.6 68.3L356.1 68.5L358.6 68.7L361.1 69.1L363.6 69.6L366.1 70.3L368.6 71.1L371.1 72.0L373.6 73.2L376.1 74.7L378.6 76.4L381.1 78.0L383.6 79.7L386.1 81.4L388.6 83.3L391.1 85.5L393.6 87.8L396.1 90.2L398.6 92.6L401.1 94.9L403.6 97.3L406.1 99.6L408.6 102.1L411.1 104.5L413.6 106.9L416.1 109.4L418.6 111.9L421.1 114.4L423.6 116.9L426.1 119.4L428.6 121.9L431.1 124.4L433.6 126.9L436.1 129.4L438.6 131.8L441.1 134.3L443.6 136.7L446.1 139.1L448.6 141.4L451.1 143.6L453.6 145.7L456.1 147.9L458.6 150.0L461.1 152.1L463.6 154.1L466.1 156.2L468.6 158.2L471.1 160.1L473.6 162.0L476.1 163.9L478.6 165.8L481.1 167.7L483.6 169.5L486.1 171.4L488.6 173.2L491.1 175.0L493.6 176.8L496.1 178.5L498.6 180.2L501.1 181.9L503.6 183.6L506.1 185.3L508.6 187.0L511.1 188.7L513.6 190.3L516.1 192.0L518.6 193.7L521.1 195.3L523.6 197.0L526.1 198.7L528.6 200.4L531.1 202.0L533.6 203.7L536.1 205.4L538.6 207.1L541.1 208.8L543.6 210.4L546.1 212.1L548.6 213.8L551.1 215.5L553.6 217.2L556.1 218.9L558.6 220.6L561.1 222.2L563.6 223.9L566.1 225.6L568.6 227.3L571.1 229.0L573.6 230.7L576.1 232.4L578.6 234.1L581.1 235.8L583.6 237.5L586.1 239.2L588.6 240.8L591.1 242.5L593.6 244.2L596.1 245.8L598.6 247.5L601.1 249.2L603.6 250.8L606.1 252.5L608.6 254.1L611.1 255.8L613.6 257.5L616.1 259.1L618.6 260.8L621.1 262.4L623.6 264.1L626.1 265.8L628.6 267.4L631.1 269.1L633.6 270.8L636.1 272.4L638.6 274.1L641.1 275.7L643.6 277.4L646.1 279.1L648.6 280.7L651.1 282.4L653.6 284.0L656.1 285.7L658.6 287.4L661.1 289.0L663.6 290.7L666.1 292.4L668.6 294.0L671.1 295.7L673.6 297.3L676.1 299.0L678.6 300.7L681.1 302.3L683.6 304.0L686.1 305.6L688.6 307.3L691.1 309.0L693.6 310.6L696.1 312.3L698.6 313.9L701.1 315.6L703.6 317.3L706.1 318.9L708.6 320.6L711.1 322.3L713.6 323.9L716.1 325.6L718.6 327.2L721.1 328.9L723.6 330.6L726.1 332.2L728.6 333.9L731.1 335.5L733.6 337.2L736.1 338.9L738.6 340.5L741.1 342.2L743.6 343.9L746.1 345.5L748.6 347.2L751.1 348.8L753.6 350.5L756.1 352.2L758.6 353.8L761.1 355.5L763.6 357.1L766.1 358.8L768.6 360.5L771.1 362.1L773.6 363.8L776.1 365.4L778.6 367.1L781.1 368.8L783.6 370.4L786.1 372.1L788.6 373.8L791.1 375.4L793.6 377.1L796.1 378.7L798.6 380.4L801.1 382.1L803.6 383.7L806.1 385.4L808.6 387.0L811.1 388.7L813.6 390.4L816.1 392.0L818.6 393.7L821.1 395.4L823.6 397.0L826.1 398.7L828.6 400.3L831.1 402.0L833.6 403.7L836.1 405.3L838.6 407.0L841.1 408.6L843.6 410.3L846.1 412.0L848.6 413.6L851.1 415.3L853.6 417.0L856.1 418.6L858.6 420.3L861.1 421.9L863.6 423.6L866.1 425.3L868.6 426.9L871.1 428.6L873.6 430.2L876.1 431.9L878.6 433.6L881.1 435.2L883.6 436.9L886.1 438.5L888.6 440.2L891.1 441.9L893.6 443.5L896.1 445.2L898.6 446.9L901.1 448.5L903.6 450.2L906.1 451.8L908.6 453.5L911.1 455.2L913.6 456.8L916.1 458.5L918.6 460.1L921.1 461.8L923.6 463.5L926.1 465.1L928.6 466.8L931.1 468.5L933.6 470.1L936.1 471.8L938.6 473.4L941.1 475.1L943.6 476.8L946.1 478.4L948.6 480.1L951.1 481.7L953.6 483.4L956.1 485.1L958.6 486.7L961.1 488.4L963.6 490.1L966.1 491.7L968.6 493.4L971.1 495.0L973.6 496.7L976.1 498.4L978.6 500.0L981.1 501.7L983.6 503.3L986.1 505.0L988.6 506.7L991.1 508.3L993.6 510.0L996.1 511.6L998.6 513.3L1001.1 515.0L1003.6 516.6L1006.1 518.3L1008.6 520.0L1011.1 521.6L1013.6 523.3L1016.1 524.9L1018.6 526.6L1021.1 528.3L1023.6 529.9L1026.1 531.6L1028.6 533.2L1031.1 534.9L1033.6 536.6L1036.1 538.2L1038.6 539.9L1041.1 541.6L1043.6 543.2L1046.1 544.9L1048.6 546.5L1051.1 548.2L1053.6 549.9L1056.1 551.5L1058.6 553.2L1061.1 554.8L1063.6 556.5L1066.1 558.2L1068.6 559.8L1071.1 561.5L1073.6 563.2L1076.1 564.8L1078.6 566.5L1081.1 568.1L1083.6 569.8L1086.1 571.5L1088.6 573.1L1091.1 574.8L1093.6 576.4L1096.1 578.1L1098.6 579.8L1101.1 581.4L1103.6 583.1L1106.1 584.7L1108.6 586.4L1111.1 588.1L1113.6 589.7L1116.1 591.4L1118.6 593.1L1121.1 594.7L1123.6 596.4L1126.1 598.0L1128.6 599.7L1131.1 601.4L1133.6 603.0L1136.1 604.7L1138.6 606.3L1141.1 608.0L1143.6 609.7L1146.1 611.3L1148.6 613.0L1150.0 613.9L1795.4 1042.8"/>
</g>
<g font-size="53">
<text x="293.4" y="83.0" text-anchor="end">100.0</text>
<text x="293.4" y="190.2" text-anchor="end">99.8</text>
<text x="293.4" y="297.4" text-anchor="end">99.6</text>
<text x="293.4" y="404.6" text-anchor="end">99.4</text>
<text x="293.4" y="511.8" text-anchor="end">99.2</text>
<text x="293.4" y="619.0" text-anchor="end">99.0</text>
<text x="293.4" y="726.3" text-anchor="end">98.8</text>
<text x="293.4" y="833.5" text-anchor="end">98.6</text>
<text x="293.4" y="940.7" text-anchor="end">98.4</text>
<text x="293.4" y="1047.9" text-anchor="end">98.2</text>
<text x="293.4" y="1155.1" text-anchor="end">98.0</text>
<text x="329.6" y="1216.8" text-anchor="middle">0</text>
<text x="621.3" y="1216.8" text-anchor="middle">4</text>
<text x="912.9" y="1216.8" text-anchor="middle">8</text>
<text x="1204.6" y="1216.8" text-anchor="middle">12</text>
<text x="1496.2" y="1216.8" text-anchor="middle">16</text>
<text x="1787.9" y="1216.8" text-anchor="middle">20</text>
</g>
<text x="1059" y="1310.7" font-size="58" text-anchor="middle">time, sec</text>
<text transform="translate(80.2 588) rotate(-90)" font-size="62.5" text-anchor="middle">% Remaining real composite mass, wt.%</text>
<g font-size="52.7">
<line x1="1236.2" y1="128.0" x2="1355" y2="128.0" stroke="#000" stroke-width="6.3" stroke-linecap="round"/>
<text x="1368.0" y="145.2">PVA</text>
<line x1="1236.2" y1="192.6" x2="1355" y2="192.6" stroke="#f00" stroke-width="6.3" stroke-linecap="round"/>
<text x="1371.0" y="209.8">10% wood</text>
<line x1="1236.2" y1="257.1" x2="1355" y2="257.1" stroke="#0f0" stroke-width="6.3" stroke-linecap="round"/>
<text x="1371.0" y="274.3">10% graphite</text>
<line x1="1236.2" y1="322.0" x2="1355" y2="322.0" stroke="#00f" stroke-width="6.3" stroke-linecap="round"/>
<text x="1371.0" y="339.2">10% talc</text>
<line x1="1236.2" y1="386.8" x2="1355" y2="386.8" stroke="#0ff" stroke-width="6.3" stroke-linecap="round"/>
<text x="1371" y="404.0">10% CaCO<tspan font-size="31" dy="19">3</tspan></text>
<line x1="1236.2" y1="469.1" x2="1355" y2="469.1" stroke="#f0f" stroke-width="6.3" stroke-linecap="round"/>
<text x="1371" y="486.3">10% TiO<tspan font-size="31" dy="19">2</tspan></text>
<line x1="1236.2" y1="551.0" x2="1355" y2="551.0" stroke="#ff0" stroke-width="6.3" stroke-linecap="round"/>
<text x="1371.0" y="568.2">10% ZnO</text>
</g>
</svg></body></html>
